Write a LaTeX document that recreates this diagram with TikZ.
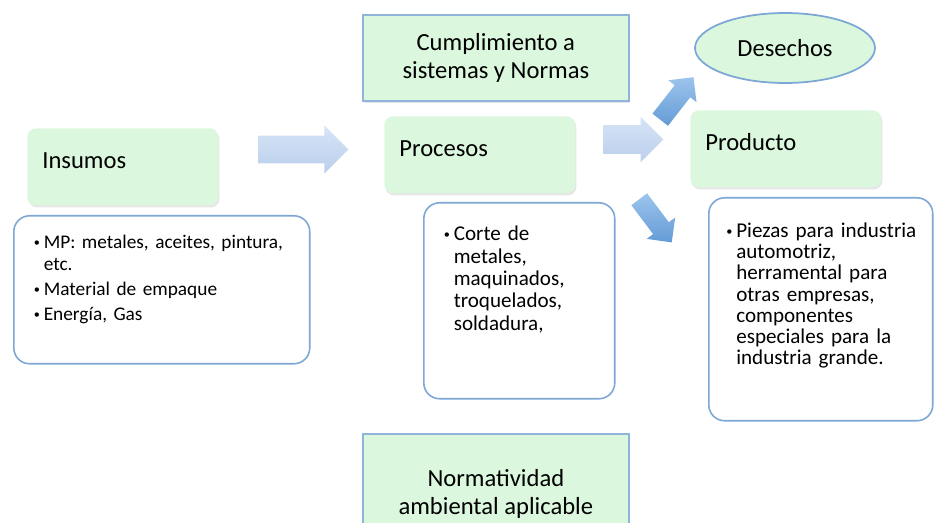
\documentclass[tikz,border=0pt]{standalone}
\usepackage{fontspec}
\setmainfont{Carlito}
\usepackage{tikz}
\usetikzlibrary{shapes,backgrounds,positioning,shadows}
\usepackage{xcolor}

\definecolor{cajaverde}{RGB}{219,247,221}
\definecolor{bordeazul}{RGB}{125,167,212}
\definecolor{flechaclara}{RGB}{214,228,246}
\definecolor{flechaclarab}{RGB}{186,207,236}
\definecolor{flechaosc}{RGB}{156,196,236}
\definecolor{flechaoscb}{RGB}{100,155,213}

\newcommand{\vineta}{\hangindent=0.2cm\hangafter=1\noindent\makebox[0.2cm][l]{\raisebox{0.2ex}{\scriptsize\textbullet}}}

\tikzset{
  titulo/.style={anchor=north west, fill=cajaverde, rounded corners=5pt,
    text width=3.22cm, inner xsep=0.3cm, inner ysep=0pt,
    text height=0.8cm, text depth=0.74cm, font=\fontsize{14}{16}\selectfont,
    drop shadow={opacity=0.2, shadow xshift=0.6pt, shadow yshift=-1.2pt}},
  detalle/.style={anchor=north west, draw=bordeazul, line width=0.9pt, fill=white,
    rounded corners=9pt, inner xsep=0.4cm, inner ysep=0pt},
  marco/.style={anchor=north west, draw=bordeazul!85, line width=1pt, fill=cajaverde,
    minimum width=5.32cm, align=center, font=\fontsize{14}{16.4}\selectfont,
    drop shadow={opacity=0.2, shadow xshift=0.6pt, shadow yshift=-1.2pt}},
  flecha/.style={single arrow, anchor=tail, inner xsep=0pt, draw=none},
  flechaclara/.style={flecha, top color=flechaclara, bottom color=flechaclarab},
  flechaoscura/.style={flecha, top color=flechaosc, bottom color=flechaoscb}
}

\begin{document}
\begin{tikzpicture}[x=0.02cm, y=-0.02cm]
  \useasboundingbox (0,0) rectangle (935,523);

  \node[marco, minimum height=1.72cm] (cumplimiento) at (362,14) {Cumplimiento a\\sistemas y Normas};
  \node[marco, minimum height=2.4cm] (normatividad) at (362,433) {Normatividad\\ambiental aplicable};

  \node[titulo] (insumos) at (27,128) {Insumos};
  \node[titulo] (procesos) at (384,116) {Procesos};
  \node[titulo] (producto) at (690,110) {Producto};

  \node[ellipse, draw=bordeazul, line width=1pt, fill=cajaverde, minimum width=3.6cm, minimum height=1.4cm,
    font=\fontsize{14}{16}\selectfont] (desechos) at (785,48) {Desechos};

  \node[detalle, text width=5.12cm, text height=0.66cm, text depth=2.30cm,
    font=\fontsize{11}{12.5}\selectfont] (insumosdet) at (13,215)
    {\raggedright\vineta MP: metales, aceites, pintura,\newline etc.\par
     \vspace{1.7pt}\vineta Material de empaque\par
     \vspace{1.7pt}\vineta Energía, Gas\par};
  \node[detalle, text width=3.02cm, text height=0.76cm, text depth=3.16cm,
    font=\fontsize{12}{12.75}\selectfont] (procesosdet) at (423,202)
    {\raggedright\vineta Corte de\newline metales,\newline maquinados,\newline troquelados,\newline soldadura,\par};
  \node[detalle, text width=3.78cm, inner xsep=0.35cm, text height=0.8cm, text depth=3.66cm,
    font=\fontsize{12}{12}\selectfont] (productodet) at (708,197)
    {\raggedright\vineta \mbox{Piezas para industria}\newline automotriz,\newline herramental para\newline otras empresas,\newline componentes\newline especiales para la\newline industria grande.\par};

  \node[flechaclara, minimum height=1.8cm, inner ysep=0.27cm, single arrow head extend=0.2cm] (entrada) at (258,149.5) {};
  \node[flechaclara, minimum height=1.2cm, inner ysep=0.28cm, single arrow head extend=0.17cm] (salida) at (603,139.5) {};
  \node[flechaoscura, minimum height=1.08cm, inner ysep=0.19cm, single arrow head extend=0.16cm, rotate=52] (haciadesechos) at (660,120) {};
  \node[flechaoscura, minimum height=1.08cm, inner ysep=0.19cm, single arrow head extend=0.16cm, rotate=-53] (haciaproducto) at (639,199) {};
\end{tikzpicture}
\end{document}
